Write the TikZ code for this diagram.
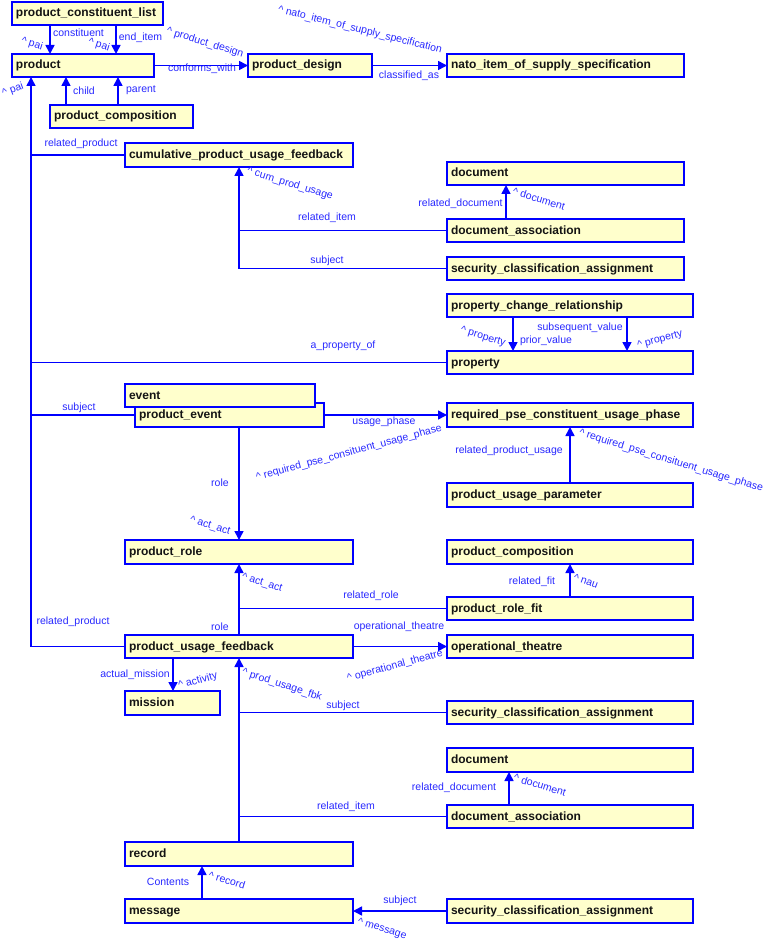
\documentclass[tikz,border=0pt]{standalone}
\usepackage{fontspec}
\setmainfont{Liberation Sans}
\usetikzlibrary{arrows.meta}
\definecolor{eblue}{RGB}{0,0,255}
\definecolor{lblue}{RGB}{40,40,255}
\definecolor{eyellow}{RGB}{255,255,204}
\definecolor{edark}{RGB}{20,20,20}
\tikzset{
  box/.style={draw=eblue, fill=eyellow, line width=1.6pt, anchor=north west, inner xsep=4pt, inner ysep=0pt, outer sep=0pt, font=\bfseries\fontsize{12}{14}\selectfont, text=edark, align=left, text height=8pt, text depth=1pt},
  conn/.style={draw=eblue, line width=1.6pt},
  arr/.style={conn, -{Triangle[length=9pt,width=9pt]}},
  lab/.style={text=lblue, inner sep=0pt, font=\fontsize{10.5}{12}\selectfont}
}
\newcommand\ebox[7]{\node[box, text width=#5pt, minimum height=#6pt] (#1) at (#2,#3) {#7};}
\newcommand\ca{\textasciicircum\ }
\begin{document}
\begin{tikzpicture}[x=1pt,y=-1pt]
\useasboundingbox (0,0) rectangle (767,941);
% x positions
\foreach \n/\v in {31/31,50/50,116/116,66/66,118/118,239/239,506/506,513/513,627/627,570/570,173/173,509/509,202/202}
  \coordinate (cx\n) at (\v,0);
% boxes: name, x, y, width, textwidth, height, text
\ebox{pcl}{12}{2}{151}{143}{23}{product\_constituent\_list}
\ebox{prod}{12}{54}{142}{134}{23}{product}
\ebox{pd}{248}{54}{124}{116}{23}{product\_design}
\ebox{nato}{447}{54}{237}{229}{23}{nato\_item\_of\_supply\_specification}
\ebox{pca}{50}{105}{143}{135}{23}{product\_composition}
\ebox{cum}{125}{143}{228}{220}{24}{cumulative\_product\_usage\_feedback}
\ebox{doca}{447}{162}{237}{229}{23}{document}
\ebox{daa}{447}{219}{237}{229}{23}{document\_association}
\ebox{scaa}{447}{257}{237}{229}{23}{security\_classification\_assignment}
\ebox{pcr}{447}{294}{246}{238}{23}{property\_change\_relationship}
\ebox{prop}{447}{351}{246}{238}{23}{property}
\ebox{pe}{135}{403}{189}{181}{24}{product\_event}
\ebox{ev}{125}{384}{190}{182}{23}{event}
\ebox{req}{447}{403}{246}{238}{24}{required\_pse\_constituent\_usage\_phase}
\ebox{pup}{447}{483}{246}{238}{24}{product\_usage\_parameter}
\ebox{pcb}{447}{540}{246}{238}{24}{product\_composition}
\ebox{prole}{125}{540}{228}{220}{24}{product\_role}
\ebox{prf}{447}{597}{246}{238}{23}{product\_role\_fit}
\ebox{ot}{447}{635}{246}{238}{23}{operational\_theatre}
\ebox{puf}{125}{635}{228}{220}{23}{product\_usage\_feedback}
\ebox{mis}{125}{691}{95}{87}{24}{mission}
\ebox{scab}{447}{701}{246}{238}{23}{security\_classification\_assignment}
\ebox{docb}{447}{748}{246}{238}{24}{document}
\ebox{dab}{447}{805}{246}{238}{23}{document\_association}
\ebox{rec}{125}{842}{228}{220}{24}{record}
\ebox{msg}{125}{899}{228}{220}{24}{message}
\ebox{scac}{447}{899}{246}{238}{24}{security\_classification\_assignment}
% connectors
\draw[arr] (pcl.south -| cx50) -- (prod.north -| cx50);
\draw[arr] (pcl.south -| cx116) -- (prod.north -| cx116);
\draw[arr] (pca.north -| cx66) -- (prod.south -| cx66);
\draw[arr] (pca.north -| cx118) -- (prod.south -| cx118);
\draw[arr] (prod.east) -- (pd.west);
\draw[arr] (pd.east) -- (nato.west);
\draw[arr] (puf.west) -| (cx31 |- prod.south);
\draw[conn] (cum.west) -- (cum.west -| cx31);
\draw[conn] (prop.west) -- (prop.west -| cx31);
\draw[conn] (pe.west) -- (pe.west -| cx31);
\draw[arr] (scaa.west) -| (cum.south -| cx239);
\draw[conn] (daa.west) -- (daa.west -| cx239);
\draw[arr] (daa.north -| cx506) -- (doca.south -| cx506);
\draw[arr] (pcr.south -| cx513) -- (prop.north -| cx513);
\draw[arr] (pcr.south -| cx627) -- (prop.north -| cx627);
\draw[arr] (pe.east) -- (req.west);
\draw[arr] (pup.north -| cx570) -- (req.south -| cx570);
\draw[arr] (pe.south -| cx239) -- (prole.north -| cx239);
\draw[arr] (puf.north -| cx239) -- (prole.south -| cx239);
\draw[conn] (prf.west) -- (prf.west -| cx239);
\draw[arr] (prf.north -| cx570) -- (pcb.south -| cx570);
\draw[arr] (puf.east) -- (ot.west);
\draw[arr] (puf.south -| cx173) -- (mis.north -| cx173);
\draw[arr] (rec.north -| cx239) -- (puf.south -| cx239);
\draw[conn] (scab.west) -- (scab.west -| cx239);
\draw[conn] (dab.west) -- (dab.west -| cx239);
\draw[arr] (dab.north -| cx509) -- (docb.south -| cx509);
\draw[arr] (msg.north -| cx202) -- (rec.south -| cx202);
\draw[arr] (scac.west) -- (msg.east);
% labels
\node[lab] (l1) at (78.5,33) {constituent};
\node[lab, rotate=-17] (l2) at (32,44) {\ca pai};
\node[lab, rotate=-17] (l3) at (99,45) {\ca pai};
\node[lab] (l4) at (140.5,38) {end\_item};
\node[lab, rotate=-17] (l5) at (205,43) {\ca product\_design};
\node[lab] (l6) at (202,69) {conforms\_with};
\node[lab, rotate=-14] (l7) at (360,30) {\ca nato\_item\_of\_supply\_specification};
\node[lab] (l8) at (409,76) {classified\_as};
\node[lab, rotate=20] (l9) at (13,90) {\ca pai};
\node[lab] (l10) at (84,91) {child};
\node[lab] (l11) at (141,90) {parent};
\node[lab] (l12) at (81,144) {related\_product};
\node[lab, rotate=-17] (l13) at (290,184) {\ca cum\_prod\_usage};
\node[lab] (l14) at (327,218) {related\_item};
\node[lab] (l15) at (327,261) {subject};
\node[lab] (l16) at (460.5,204) {related\_document};
\node[lab, rotate=-17] (l17) at (539,199) {\ca document};
\node[lab, rotate=-17] (l18) at (483,337) {\ca property};
\node[lab] (l19) at (546,341) {prior\_value};
\node[lab] (l20) at (580,328) {subsequent\_value};
\node[lab, rotate=15] (l21) at (660,340) {\ca property};
\node[lab] (l22) at (343,346) {a\_property\_of};
\node[lab] (l23) at (79,408) {subject};
\node[lab] (l24) at (384,422) {usage\_phase};
\node[lab, rotate=15] (l25) at (349,453) {\ca required\_pse\_consituent\_usage\_phase};
\node[lab] (l26) at (220,483) {role};
\node[lab, rotate=-17] (l27) at (210,526) {\ca act\_act};
\node[lab] (l28) at (509,451) {related\_product\_usage};
\node[lab, rotate=-17] (l29) at (671,461) {\ca required\_pse\_consituent\_usage\_phase};
\node[lab, rotate=-17] (l30) at (262,583) {\ca act\_act};
\node[lab] (l31) at (371,596) {related\_role};
\node[lab] (l32) at (220,627) {role};
\node[lab] (l33) at (73,622) {related\_product};
\node[lab] (l34) at (532,582) {related\_fit};
\node[lab, rotate=-20] (l35) at (586,581) {\ca nau};
\node[lab] (l36) at (399,627) {operational\_theatre};
\node[lab, rotate=15] (l37) at (395,666) {\ca operational\_theatre};
\node[lab] (l38) at (135,675) {actual\_mission};
\node[lab, rotate=15] (l39) at (198,681) {\ca activity};
\node[lab, rotate=-18] (l40) at (282,685) {\ca prod\_usage\_fbk};
\node[lab] (l41) at (343,706) {subject};
\node[lab] (l42) at (346,807) {related\_item};
\node[lab] (l43) at (454,788) {related\_document};
\node[lab, rotate=-17] (l44) at (540,785) {\ca document};
\node[lab] (l45) at (168,882) {Contents};
\node[lab, rotate=-17] (l46) at (227,880) {\ca record};
\node[lab] (l47) at (400,901) {subject};
\node[lab, rotate=-17] (l48) at (382,929) {\ca message};
\end{tikzpicture}
\end{document}
